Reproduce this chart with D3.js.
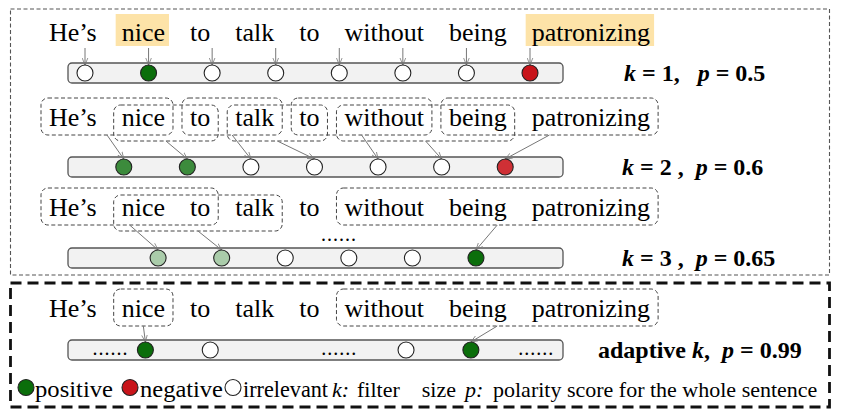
<!DOCTYPE html>
<html>
<head>
<meta charset="UTF-8">
<script src="https://d3js.org/d3.v7.min.js"></script>
</head>
<body style="margin:0">
<svg id="fig" width="842" height="416"></svg>
<script>
// ---- data ----
const words = ["He\u2019s", "nice", "to", "talk", "to", "without", "being", "patronizing"];
const highlighted = [1, 7];
const kLabels = ["1", "2", "3", "adaptive"];
const pScores = ["0.5", "0.6", "0.65", "0.99"];
// polarity of each filter output: >0 positive, <0 negative, 0 irrelevant
const scoresK1 = [0, 1, 0, 0, 0, 0, 0, -1];
const scoresK2 = [0.8, 0.8, 0, 0, 0, 0, -0.88];
const scoresK3 = [0.35, 0.35, 0, 0, 0, 1];
const scoresAdaptive = [null, 1, 0, null, 0, 1, null]; // null = "......"
// word windows [first, last] seen by each filter, and the circle it feeds
const windowsK2 = [[0, 1], [1, 2], [2, 3], [3, 4], [4, 5], [5, 6], [6, 7]];
const windowsK3 = [[0, 2], [1, 3], [5, 7]];
const windowsAdaptive = [[1, 1], [5, 7]];
const targetsK3 = [0, 1, 5];
const targetsAdaptive = [1, 5];
const legendItems = [
  {kind: "pos", text: "positive"},
  {kind: "neg", text: "negative"},
  {kind: "irr", text: "irrelevant"},
  {kind: "it", text: "k:"},
  {kind: "txt", text: "filter\u00a0\u00a0\u00a0 size"},
  {kind: "it", text: "p:"},
  {kind: "txt", text: "polarity score for the whole sentence"}
];

// ---- layout ----
const FONT = "Liberation Serif";
const NB = "\u00a0";
const baselines = [41, 126, 216, 317];
const barMid = [73, 167, 258, 350];
const slotShift = [0, 0.61, 1.15, 0];
const adaptiveSlots = [0.4, 0.95, 1.97, 4, 5.05, 6.07, 7.1];
const legendX = [18, 35, 122, 140, 225, 243, 332, 357, 465, 493];
const legendW = {positive: 78, negative: 83, irrelevant: 85};

const svg = d3.select("#fig");
const xSlot = d3.scaleLinear().domain([0, 7]).range([85, 530]);
const posColor = d3.scaleLinear().domain([0, 1]).range(["#ffffff", "#0b6e0b"]);
const negColor = d3.scaleLinear().domain([-1, 0]).range(["#c8141a", "#ffffff"]);
const fillFor = s => s >= 0 ? posColor(s) : negColor(s);
const R = 8;

function txt(sel) {
  return sel.append("text").style("font-family", FONT);
}

svg.append("defs").append("marker")
  .attr("id", "arr").attr("viewBox", "0 -5 10 10").attr("refX", 10).attr("refY", 0)
  .attr("markerWidth", 7).attr("markerHeight", 7).attr("markerUnits", "userSpaceOnUse")
  .attr("orient", "auto")
  .append("path").attr("d", "M0,-4L10,0L0,4").attr("fill", "none")
  .attr("stroke", "#777").attr("stroke-width", 1.1);

// outer frames
svg.append("rect").attr("x", 10.5).attr("y", 9).attr("width", 819).attr("height", 266)
  .attr("fill", "none").attr("stroke", "#555").attr("stroke-width", 1.1).attr("stroke-dasharray", "4,2.5");
svg.append("rect").attr("x", 10.5).attr("y", 283).attr("width", 819).attr("height", 124)
  .attr("fill", "none").attr("stroke", "#111").attr("stroke-width", 2.8).attr("stroke-dasharray", "11,6");

// measure words once
const meas = txt(svg).attr("font-size", 26);
const wordW = words.map(w => { meas.text(w); return meas.node().getComputedTextLength(); });
meas.remove();
const wordLeft = [];
let cur = 49;
wordW.forEach(w => { wordLeft.push(cur); cur += w + 25; });
const wordRight = wordLeft.map((l, i) => l + wordW[i]);

function drawWords(row, hl) {
  const g = svg.append("g");
  if (hl) {
    g.selectAll("rect.hl").data(highlighted).join("rect")
      .attr("x", i => wordLeft[i] - 6).attr("width", i => wordW[i] + 10)
      .attr("y", baselines[row] - 27).attr("height", 32).attr("fill", "#fde3a8");
  }
  words.forEach((w, i) => {
    txt(g).attr("x", wordLeft[i]).attr("y", baselines[row]).attr("font-size", 26).text(w);
  });
}

function drawBar(row) {
  svg.append("rect").attr("x", 68).attr("y", barMid[row] - 10).attr("width", 495).attr("height", 20)
    .attr("rx", 4).attr("fill", "#f2f2f2").attr("stroke", "#555").attr("stroke-width", 1.3);
}

function drawCircles(row, scores, xs) {
  svg.append("g").selectAll("circle").data(scores).join("circle")
    .attr("cx", (d, i) => xs(i)).attr("cy", barMid[row]).attr("r", R)
    .attr("fill", d => fillFor(d)).attr("stroke", "#222").attr("stroke-width", 1.1);
}

function boxes(row, wins, twoLevel) {
  const b = baselines[row];
  return wins.map((w, i) => {
    const lower = twoLevel && i % 2 === 1;
    return {x0: wordLeft[w[0]] - 8, x1: wordRight[w[1]] + 8,
      y0: lower ? b - 21 : b - 28, y1: lower ? b + 15 : b + 9};
  });
}

function drawBoxes(bx) {
  svg.append("g").selectAll("rect").data(bx).join("rect")
    .attr("x", d => d.x0).attr("y", d => d.y0).attr("width", d => d.x1 - d.x0).attr("height", d => d.y1 - d.y0)
    .attr("rx", 7).attr("fill", "none").attr("stroke", "#444").attr("stroke-width", 1)
    .attr("stroke-dasharray", "4,2.5");
}

function drawArrows(data) {
  svg.append("g").selectAll("line").data(data).join("line")
    .attr("x1", d => d[0]).attr("y1", d => d[1]).attr("x2", d => d[2]).attr("y2", d => d[3])
    .attr("stroke", "#777").attr("stroke-width", 1).attr("marker-end", "url(#arr)");
}

function drawLabel(row, x) {
  const t = txt(svg).attr("x", x).attr("y", barMid[row] + 8)
    .attr("font-size", 24).attr("font-weight", "bold");
  const k = kLabels[row], p = pScores[row];
  if (k === "adaptive") {
    t.append("tspan").text("adaptive ");
    t.append("tspan").attr("font-style", "italic").text("k");
    t.append("tspan").text("," + NB + " ");
  } else {
    t.append("tspan").attr("font-style", "italic").text("k");
    t.append("tspan").text(row === 0 ? " = " + k + "," + NB + NB + " " : " = " + k + " ," + NB + " ");
  }
  t.append("tspan").attr("font-style", "italic").text("p");
  t.append("tspan").text(" = " + p);
}

function dots(x, y) {
  txt(svg).attr("x", x).attr("y", y).attr("text-anchor", "middle")
    .attr("font-size", 20).attr("letter-spacing", 1).text("......");
}

// row 1: k = 1
drawWords(0, true);
drawBar(0);
const xs0 = i => xSlot(i + slotShift[0]);
drawArrows(scoresK1.map((d, i) => [xs0(i), baselines[0] + 7, xs0(i), barMid[0] - R]));
drawCircles(0, scoresK1, xs0);
drawLabel(0, 624);

// row 2: k = 2
const xs1 = i => xSlot(i + slotShift[1]);
const bx1 = boxes(1, windowsK2, true);
drawBoxes(bx1);
drawWords(1, false);
drawBar(1);
drawArrows(bx1.map((b, i) => [(b.x0 + b.x1) / 2, b.y1, xs1(i), barMid[1] - R]));
drawCircles(1, scoresK2, xs1);
drawLabel(1, 622);

// row 3: k = 3
const xs2 = i => xSlot(i + slotShift[2]);
const bx2 = boxes(2, windowsK3, true);
drawBoxes(bx2);
drawWords(2, false);
drawBar(2);
drawArrows(bx2.map((b, i) => [(b.x0 + b.x1) / 2, b.y1, xs2(targetsK3[i]), barMid[2] - R]));
drawCircles(2, scoresK3, xs2);
dots(339, barMid[2] - 17);
drawLabel(2, 622);

// row 4: adaptive k
const xs3 = i => xSlot(adaptiveSlots[i]);
const bx3 = boxes(3, windowsAdaptive, false);
drawBoxes(bx3);
drawWords(3, false);
drawBar(3);
drawArrows(bx3.map((b, i) => [(b.x0 + b.x1) / 2, b.y1, xs3(targetsAdaptive[i]), barMid[3] - R]));
scoresAdaptive.forEach((s, i) => { if (s === null) dots(xs3(i), barMid[3] + 5); });
svg.append("g").selectAll("circle").data(scoresAdaptive.map((s, i) => ({s, i})).filter(d => d.s !== null))
  .join("circle").attr("cx", d => xs3(d.i)).attr("cy", barMid[3]).attr("r", R)
  .attr("fill", d => fillFor(d.s)).attr("stroke", "#222").attr("stroke-width", 1.1);
drawLabel(3, 598);

// legend
const ly = 387.5;
const lg = svg.append("g");
let xi = 0;
legendItems.forEach(it => {
  if (it.kind === "pos" || it.kind === "neg" || it.kind === "irr") {
    const s = it.kind === "pos" ? 1 : it.kind === "neg" ? -1 : 0;
    lg.append("circle").attr("cx", legendX[xi] + R).attr("cy", ly).attr("r", R)
      .attr("fill", fillFor(s)).attr("stroke", "#222").attr("stroke-width", 1.1);
    xi++;
  }
  const t = txt(lg).attr("x", legendX[xi]).attr("y", ly + 9)
    .attr("font-size", legendW[it.text] ? 23 : 22)
    .attr("font-style", it.kind === "it" ? "italic" : "normal")
    .text(it.text);
  if (legendW[it.text]) t.attr("textLength", legendW[it.text]).attr("lengthAdjust", "spacingAndGlyphs");
  xi++;
});
</script>
</body>
</html>
